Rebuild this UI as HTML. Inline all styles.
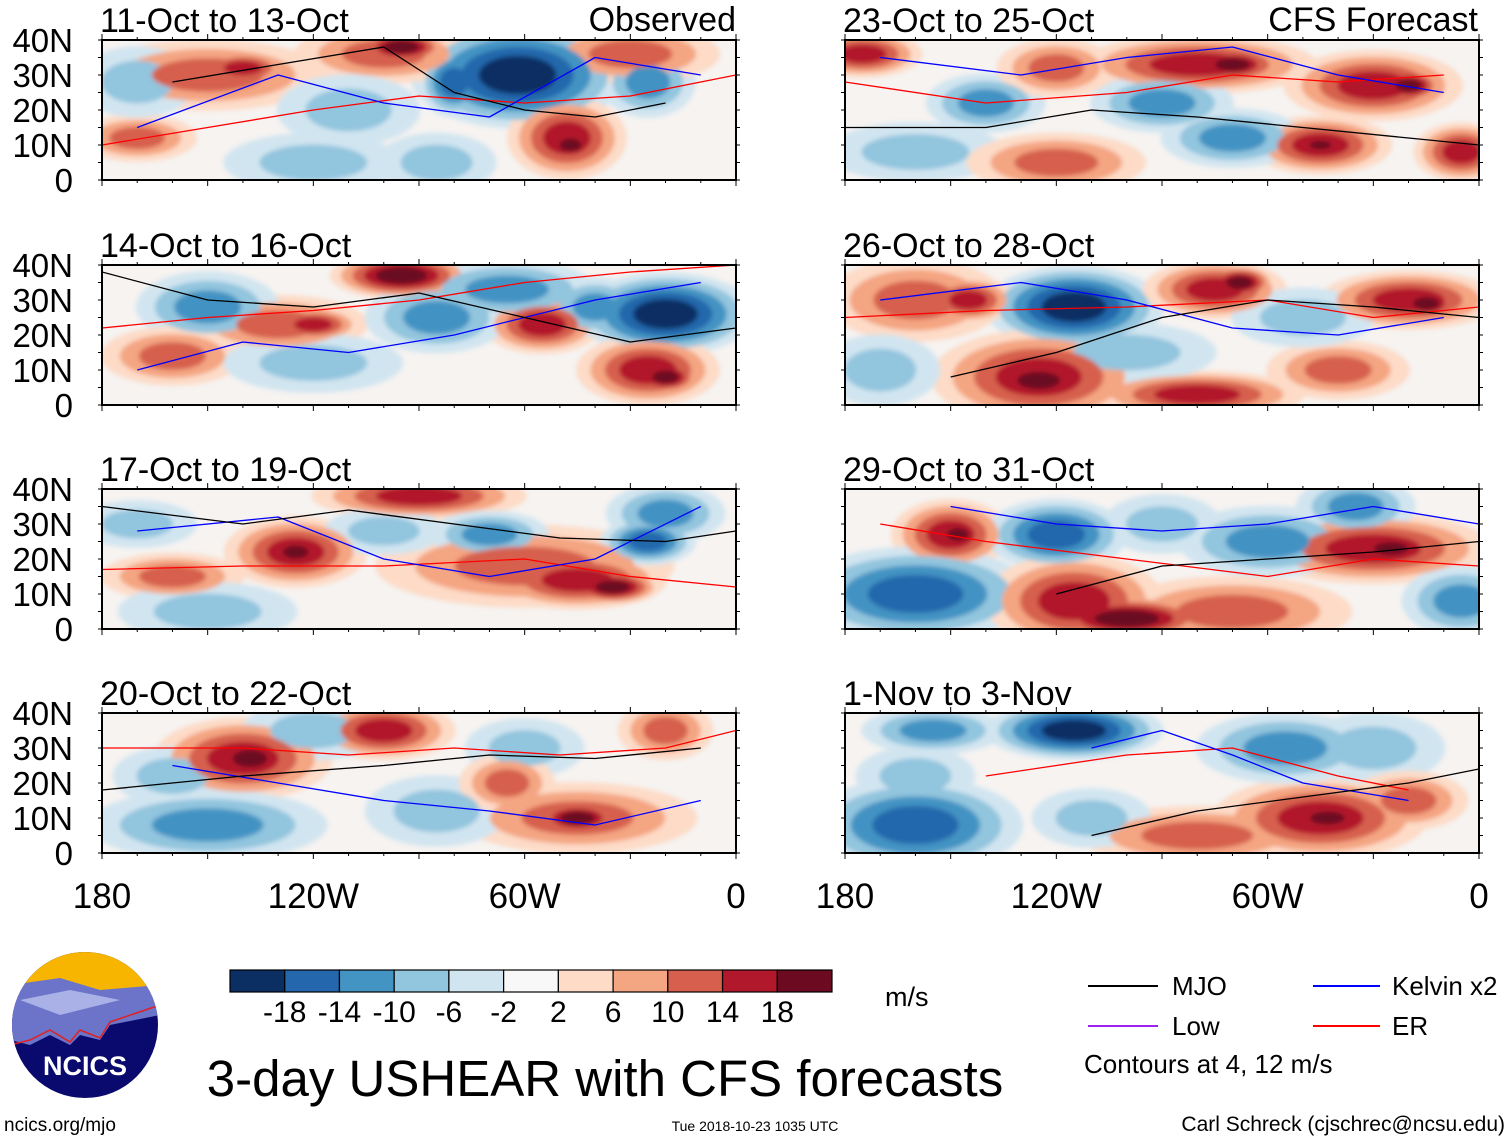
<!DOCTYPE html>
<html><head><meta charset="utf-8">
<style>
body{margin:0;background:#fff;width:1510px;height:1141px;overflow:hidden;font-family:"Liberation Sans",sans-serif;}
svg text{font-family:"Liberation Sans",sans-serif;}
</style></head>
<body>
<svg id="fig" width="1510" height="1141" viewBox="0 0 1510 1141" xmlns="http://www.w3.org/2000/svg">
<defs><filter id="blur" x="-20%" y="-20%" width="140%" height="140%"><feGaussianBlur stdDeviation="2.5"/></filter></defs>
</svg>
<script>
const panelTitles=["11-Oct to 13-Oct","14-Oct to 16-Oct","17-Oct to 19-Oct","20-Oct to 22-Oct","23-Oct to 25-Oct","26-Oct to 28-Oct","29-Oct to 31-Oct","1-Nov to 3-Nov"];
const latTicks=["40N","30N","20N","10N","0"];
const lonTicks=["180","120W","60W","0"];
const lonTickValues=[-180,-120,-60,0];
const latTickValues=[40,30,20,10,0];
const cbLabels=["-18","-14","-10","-6","-2","2","6","10","14","18"];
const cbColors=["#0b2f63","#2467ac","#4393c3","#92c5de","#d1e5f0","#f8f8f8","#fddbc7","#f4a582","#d6604d","#b2182b","#6b0a20"];
// blobs: [lon, lat, rx(deg), ry(deg), level(-5..5)]
const blobs1=[[-62,30,18,9,-5],[-80,28,6,6,-4],[-100,36,15,5,3],[-95,38,8,3,5],[-150,30,20,6,3],[-140,32,8,3,4],[-48,12,10,7,4],[-47,10,5,3,5],[-170,12,10,4,3],[-120,5,15,5,-2],[-25,28,8,6,-3],[-30,36,15,5,3],[-170,28,10,6,-2],[-110,20,12,6,-2],[-85,5,10,5,-2]];
const blobs2=[[-20,26,15,7,-5],[-95,37,12,4,5],[-130,23,15,5,3],[-120,23,8,3,4],[-55,23,10,5,4],[-25,10,12,6,4],[-20,8,6,3,5],[-150,28,12,6,-3],[-85,25,12,6,-3],[-65,33,15,5,-3],[-160,14,12,5,3],[-40,28,8,5,-3],[-120,12,15,5,-2]];
const blobs3=[[-125,22,12,6,4],[-125,22,6,3,5],[-90,38,18,4,4],[-60,18,25,7,3],[-45,14,15,5,4],[-35,12,8,3,5],[-25,25,8,4,-4],[-70,27,10,4,-3],[-160,15,12,4,3],[-150,5,15,5,-2],[-100,28,10,4,-2],[-170,30,10,4,-2],[-20,33,10,5,-3]];
const blobs4=[[-140,27,15,7,4],[-138,27,8,4,5],[-100,35,12,5,4],[-45,10,20,6,3],[-45,10,8,3,5],[-150,8,20,6,-3],[-160,22,10,5,-2],[-120,35,12,5,-2],[-60,30,10,5,-2],[-20,35,8,5,3],[-85,12,12,6,-2],[-65,20,8,5,3]];
const blobs5=[[-80,33,20,5,4],[-70,33,8,3,5],[-30,27,15,6,4],[-20,27,6,3,5],[-175,36,10,4,4],[-45,10,12,5,4],[-45,10,5,2,5],[-140,22,10,5,-3],[-90,22,12,5,-3],[-70,12,12,5,-3],[-160,8,15,5,-2],[-120,5,15,5,3],[-5,8,8,5,4],[-120,32,10,5,3]];
const blobs6=[[-115,28,15,7,-5],[-75,33,12,5,4],[-68,35,6,3,5],[-20,30,15,5,4],[-15,29,6,3,5],[-160,30,15,7,3],[-145,30,8,4,4],[-125,8,18,8,4],[-125,7,10,4,5],[-80,3,18,4,4],[-40,10,12,5,3],[-100,15,15,5,-2],[-170,10,10,6,-2],[-50,25,12,5,-2]];
const blobs7=[[-150,27,10,6,4],[-148,27,5,3,5],[-120,27,12,6,-4],[-160,10,20,8,-4],[-115,8,15,8,4],[-100,3,15,4,5],[-70,5,20,6,3],[-30,23,20,6,4],[-25,23,8,3,5],[-60,25,15,6,-3],[-90,30,10,5,-2],[-35,35,10,5,-3],[-5,8,10,6,-3]];
const blobs8=[[-115,35,15,5,-5],[-155,35,12,4,-3],[-160,8,18,8,-4],[-45,10,18,7,4],[-43,10,8,3,5],[-80,5,20,5,3],[-55,30,15,6,-3],[-30,30,12,6,-2],[-160,22,10,5,-2],[-20,15,10,5,3],[-110,10,10,5,-2]];
const allBlobs=[blobs1,blobs2,blobs3,blobs4,blobs5,blobs6,blobs7,blobs8];
// MJO contour polylines [lon,lat]
const mjo1=[[-160,28],[-130,33],[-100,38],[-80,25],[-60,20],[-40,18],[-20,22]];
const mjo2=[[-180,38],[-150,30],[-120,28],[-90,32],[-60,25],[-30,18],[0,22]];
const mjo3=[[-180,35],[-140,30],[-110,34],[-80,30],[-50,26],[-20,25],[0,28]];
const mjo4=[[-180,18],[-140,22],[-100,25],[-70,28],[-40,27],[-10,30]];
const mjo5=[[-180,15],[-140,15],[-110,20],[-80,18],[-50,15],[-20,12],[0,10]];
const mjo6=[[-150,8],[-120,15],[-90,25],[-60,30],[-30,28],[0,25]];
const mjo7=[[-120,10],[-90,18],[-60,20],[-30,22],[0,25]];
const mjo8=[[-110,5],[-80,12],[-50,16],[-20,20],[0,24]];
const allMjo=[mjo1,mjo2,mjo3,mjo4,mjo5,mjo6,mjo7,mjo8];
// ER (red) and Kelvin (blue) contours
const er1=[[-180,10],[-150,15],[-120,20],[-90,24],[-60,22],[-30,24],[0,30]];
const er2=[[-180,22],[-150,25],[-120,27],[-90,30],[-60,35],[-30,38],[0,40]];
const er3=[[-180,17],[-140,18],[-100,18],[-60,20],[-30,15],[0,12]];
const er4=[[-180,30],[-140,30],[-110,28],[-80,30],[-50,28],[-20,30],[0,35]];
const er5=[[-180,28],[-140,22],[-100,25],[-70,30],[-40,28],[-10,30]];
const er6=[[-180,25],[-140,27],[-100,28],[-60,30],[-30,25],[0,28]];
const er7=[[-170,30],[-140,25],[-100,20],[-60,15],[-30,20],[0,18]];
const er8=[[-140,22],[-100,28],[-70,30],[-40,22],[-20,18]];
const allEr=[er1,er2,er3,er4,er5,er6,er7,er8];
const kv1=[[-170,15],[-130,30],[-100,22],[-70,18],[-40,35],[-10,30]];
const kv2=[[-170,10],[-140,18],[-110,15],[-80,20],[-40,30],[-10,35]];
const kv3=[[-170,28],[-130,32],[-100,20],[-70,15],[-40,20],[-10,35]];
const kv4=[[-160,25],[-130,20],[-100,15],[-70,12],[-40,8],[-10,15]];
const kv5=[[-170,35],[-130,30],[-100,35],[-70,38],[-40,30],[-10,25]];
const kv6=[[-170,30],[-130,35],[-100,30],[-70,22],[-40,20],[-10,25]];
const kv7=[[-150,35],[-120,30],[-90,28],[-60,30],[-30,35],[0,30]];
const kv8=[[-110,30],[-90,35],[-70,28],[-50,20],[-20,15]];
const allKv=[kv1,kv2,kv3,kv4,kv5,kv6,kv7,kv8];

const NS="http://www.w3.org/2000/svg";
const svg=document.getElementById('fig');
function mk(tag,attrs,parent){const e=document.createElementNS(NS,tag);for(const k in attrs)e.setAttribute(k,attrs[k]);(parent||svg).appendChild(e);return e;}
const colX=[102,845], rowY=[40,265,489,713], PW=634, PH=140, SC=1.7;
function colorFor(l){return cbColors[l+5];}
for(let p=0;p<8;p++){
  const col=p<4?0:1,row=p%4,x0=colX[col],y0=rowY[row];
  const sx=lon=>x0+(lon+180)/180*PW, sy=lat=>y0+(40-lat)/40*PH;
  const g=mk('g',{});
  
  
  const cp=mk('clipPath',{id:'cp'+p},g);mk('rect',{x:x0,y:y0,width:PW,height:PH},cp);
  const inner=mk('g',{'clip-path':'url(#cp'+p+')'},g);
  mk('rect',{x:x0,y:y0,width:PW,height:PH,fill:'#f6f3f1'},inner);
  const fg=mk('g',{filter:'url(#blur)'},inner);
  for(let k=1;k<=5;k++){
    allBlobs[p].forEach(b=>{
      const n=Math.abs(b[4]),s=Math.sign(b[4]);
      if(k>n) return;
      const f=1-0.8*(k-1)/n;
      const el=mk('ellipse',{cx:sx(b[0]),cy:sy(b[1]),rx:SC*b[2]*f*PW/180,ry:SC*b[3]*f*PH/40,fill:colorFor(s*k)},fg);
      
      
    });
  }
  [[allEr[p],'#ff0000','er-contour'],[allKv[p],'#0000ff','kelvin-contour'],[allMjo[p],'#000','mjo-contour']].forEach(c=>{
    const pts=c[0].map(q=>sx(q[0])+','+sy(q[1])).join(' ');
    const ln=mk('polyline',{points:pts,fill:'none',stroke:c[1],'stroke-width':1.3,'stroke-linejoin':'round'},inner);
    
    
  });
  mk('rect',{x:x0,y:y0,width:PW,height:PH,fill:'none',stroke:'#000','stroke-width':2},g);
  for(let lon=-180;lon<=0;lon+=10){const len=lon%30===0?6:3;mk('line',{x1:sx(lon),x2:sx(lon),y1:y0,y2:y0-len,stroke:'#000'},g);mk('line',{x1:sx(lon),x2:sx(lon),y1:y0+PH,y2:y0+PH+len,stroke:'#000'},g);}
  for(let lat=0;lat<=40;lat+=5){mk('line',{x1:x0,x2:x0-4,y1:sy(lat),y2:sy(lat),stroke:'#000'},g);mk('line',{x1:x0+PW,x2:x0+PW+4,y1:sy(lat),y2:sy(lat),stroke:'#000'},g);}
  const t=mk('text',{x:x0-2,y:y0-8,'font-size':34},g);t.textContent=panelTitles[p];
  
  
  if(col===0){latTickValues.forEach((v,i)=>{const tt=mk('text',{x:73,y:sy(v)+12,'font-size':33,'text-anchor':'end'},g);tt.textContent=latTicks[i];
    
    });}
  if(row===3){lonTickValues.forEach((v,i)=>{const tt=mk('text',{x:sx(v),y:908,'font-size':35,'text-anchor':'middle'},g);tt.textContent=lonTicks[i];
    
    });}
}
[['Observed',736,31],['CFS Forecast',1478,31]].forEach(a=>{const t=mk('text',{x:a[1],y:a[2],'font-size':34,'text-anchor':'end'});t.textContent=a[0];
  
  });
const cb=mk('g',{});


const cbx=230,cbw=602/11;
cbColors.forEach((c,i)=>mk('rect',{x:cbx+i*cbw,y:970,width:cbw,height:22,fill:c,stroke:'#000','stroke-width':1.2},cb));
cbLabels.forEach((l,i)=>{const t=mk('text',{x:cbx+(i+1)*cbw,y:1022,'font-size':30,'text-anchor':'middle'},cb);t.textContent=l;});
</script>
<svg style="position:absolute;left:0;top:0" width="1510" height="1141">
<g>
<clipPath id="lc"><circle cx="85" cy="1025" r="73"/></clipPath>
<g clip-path="url(#lc)">
<rect x="10" y="950" width="150" height="150" fill="#0a0a6e"/>
<rect x="10" y="950" width="150" height="40" fill="#f7b500"/>
<path d="M10 985 L60 978 L100 990 L160 985 L160 1015 L110 1025 L100 1040 L80 1035 L70 1045 L50 1035 L30 1045 L10 1040 Z" fill="#6b74c8"/>
<path d="M20 1000 L70 990 L120 1000 L60 1015 Z" fill="#a9b1e6"/>
<path d="M10 1045 L30 1040 L50 1030 L70 1042 L80 1030 L100 1038 L110 1022 L160 1005" fill="none" stroke="#e02020" stroke-width="1.5"/>
</g>
<text x="85" y="1075" font-size="27" font-weight="bold" fill="#fff" text-anchor="middle">NCICS</text>
</g>
<text x="4" y="1131" font-size="19">ncics.org/mjo</text>
<text x="885" y="1006" font-size="27">m/s</text>
<text x="605" y="1096" font-size="51" text-anchor="middle">3-day USHEAR with CFS forecasts</text>
<text x="755" y="1131" font-size="14" text-anchor="middle">Tue 2018-10-23 1035 UTC</text>
<text x="1505" y="1131" font-size="21" text-anchor="end">Carl Schreck (cjschrec@ncsu.edu)</text>
<g><line x1="1088" y1="986" x2="1158" y2="986" stroke="#000" stroke-width="2"/><text x="1172" y="995" font-size="26">MJO</text></g>
<g><line x1="1313" y1="986" x2="1380" y2="986" stroke="#0000ff" stroke-width="2"/><text x="1392" y="995" font-size="26">Kelvin x2</text></g>
<g><line x1="1088" y1="1026" x2="1158" y2="1026" stroke="#a020f0" stroke-width="2"/><text x="1172" y="1035" font-size="26">Low</text></g>
<g><line x1="1313" y1="1026" x2="1380" y2="1026" stroke="#ff0000" stroke-width="2"/><text x="1392" y="1035" font-size="26">ER</text></g>
<text x="1084" y="1073" font-size="26">Contours at 4, 12 m/s</text>
</svg>
</body></html>
